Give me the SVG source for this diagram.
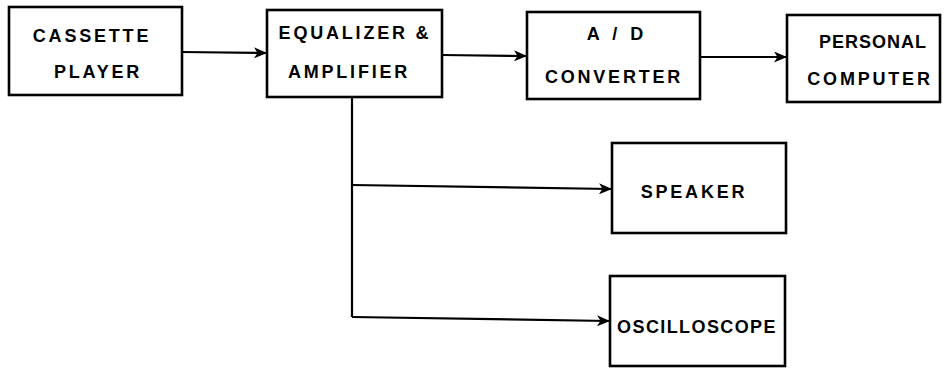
<svg xmlns="http://www.w3.org/2000/svg" width="952" height="368" viewBox="0 0 952 368">
<style>
.box{fill:#fff;stroke:#000;stroke-width:2.6}
.lbl{font-family:"Liberation Sans",Arial,sans-serif;font-weight:bold;font-size:18px;letter-spacing:2.8px;text-anchor:middle;fill:#000}
.ln{fill:none;stroke:#000;stroke-width:2.2}
</style>
<defs>
<marker id="ah" markerWidth="13" markerHeight="11" refX="12" refY="5.5" orient="auto" markerUnits="userSpaceOnUse">
<path d="M0,0 L13,5.5 L0,11 L3.5,5.5 Z" fill="#000"/>
</marker>
</defs>
<rect width="952" height="368" fill="#fff"/>
<g id="connectors">
<line class="ln" x1="182" y1="52" x2="266" y2="53" marker-end="url(#ah)"/>
<line class="ln" x1="442" y1="55" x2="526" y2="56" marker-end="url(#ah)"/>
<line class="ln" x1="700" y1="57" x2="786" y2="57" marker-end="url(#ah)"/>
<polyline class="ln" points="352,97 352,317"/>
<line class="ln" x1="352" y1="185" x2="611" y2="189" marker-end="url(#ah)"/>
<line class="ln" x1="352" y1="317" x2="609" y2="321" marker-end="url(#ah)"/>
</g>
<g id="cassette">
<rect class="box" x="9" y="7" width="173" height="88"/>
<text class="lbl" x="92" y="42">CASSETTE</text>
<text class="lbl" x="98" y="78">PLAYER</text>
</g>
<g id="equalizer">
<rect class="box" x="267" y="10" width="175" height="87"/>
<text class="lbl" x="355" y="39">EQUALIZER &amp;</text>
<text class="lbl" x="349" y="78">AMPLIFIER</text>
</g>
<g id="adc">
<rect class="box" x="527" y="12" width="173" height="87"/>
<text class="lbl" x="617" y="40" style="letter-spacing:4px">A / D</text>
<text class="lbl" x="614" y="83">CONVERTER</text>
</g>
<g id="pc">
<rect class="box" x="787" y="15" width="153" height="87"/>
<text class="lbl" x="873" y="48" style="letter-spacing:1px">PERSONAL</text>
<text class="lbl" x="870" y="85">COMPUTER</text>
</g>
<g id="speaker">
<rect class="box" x="612" y="143" width="174" height="90"/>
<text class="lbl" x="694" y="198">SPEAKER</text>
</g>
<g id="oscilloscope">
<rect class="box" x="610" y="276" width="175" height="90"/>
<text class="lbl" x="697" y="333" style="letter-spacing:1.4px">OSCILLOSCOPE</text>
</g>
</svg>
